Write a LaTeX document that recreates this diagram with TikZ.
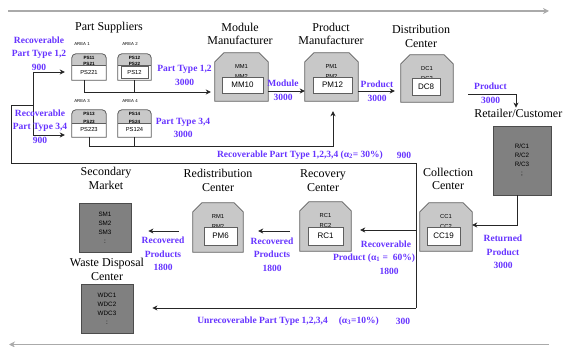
\documentclass[tikz,border=0pt]{standalone}
\usepackage{fontspec}
\setmainfont{Liberation Serif}
\setsansfont{Liberation Sans}
\usetikzlibrary{arrows.meta,calc}
\definecolor{lab}{RGB}{102,51,255}
\definecolor{boxfill}{RGB}{200,200,200}
\definecolor{boxline}{RGB}{95,95,95}
\definecolor{darkfill}{RGB}{128,128,128}
\definecolor{guide}{RGB}{170,170,170}
\tikzset{
 title/.style={font=\fontsize{12}{13.5}\selectfont, align=center, inner sep=0pt},
 lbl/.style={font=\bfseries\fontsize{9.5}{13.5}\selectfont, text=lab, align=center, inner sep=0pt},
 innerbox/.style={draw=boxline, fill=white, line width=0.7pt, font=\sffamily\fontsize{8}{9}\selectfont, inner sep=0pt},
 toptext/.style={font=\sffamily\fontsize{5.8}{6}\selectfont, inner sep=0pt},
 pstop/.style={font=\sffamily\bfseries\fontsize{4.6}{5}\selectfont, inner sep=0pt},
 pstext/.style={font=\sffamily\fontsize{5.8}{6}\selectfont, inner sep=0pt},
 areatext/.style={font=\sffamily\fontsize{4.3}{5}\selectfont, inner sep=0pt},
 holder/.style={inner sep=0pt, draw=none},
 darkbox/.style={draw=black!70, fill=darkfill, line width=0.8pt, inner sep=0pt, align=center, font=\sffamily\fontsize{6.3}{9}\selectfont},
 conn/.style={draw=black!85, line width=0.8pt},
 arr/.style={conn, -{Stealth[length=5pt,width=5pt,inset=1.5pt]}},
 guidearrow/.style={draw=guide, line width=1.3pt, -{Stealth[length=6pt,width=6pt,inset=2pt]}},
}
\newcommand{\chbox}[3]{%
 \draw[draw=boxline, fill=boxfill, line width=0.8pt] (#1.south west) -- ([yshift=-9pt]#1.north west) -- ([xshift=9pt]#1.north west) -- ([xshift=-9pt]#1.north east) -- ([yshift=-9pt]#1.north east) -- (#1.south east) -- cycle;
 \node[toptext] at ([yshift=-13.8pt]#1.north) {#2};
 \node[toptext] at ([yshift=-23.5pt]#1.north) {#3};
}
\newcommand{\psbox}[5]{%
 \path[fill=boxfill] (#1.south west) -- ([yshift=-4pt]#1.north west) arc[start angle=180, end angle=90, radius=4pt] -- ([xshift=-4pt]#1.north east) arc[start angle=90, end angle=0, radius=4pt] -- (#1.south east) -- cycle;
 \node[pstop] at ([yshift=-4pt]#1.north) {#3};
 \node[pstop] at ([yshift={1.2pt-#2}]#1.north) {#4};
 \fill[white] (#1.south west) rectangle ([yshift=-#2]#1.north east);
 \draw[boxline, line width=0.5pt] ([yshift=-#2]#1.north west) -- ([yshift=-#2]#1.north east);
 \draw[boxline, line width=0.8pt] (#1.south west) -- ([yshift=-4pt]#1.north west) arc[start angle=180, end angle=90, radius=4pt] -- ([xshift=-4pt]#1.north east) arc[start angle=90, end angle=0, radius=4pt] -- (#1.south east) -- cycle;
 \node[pstext] at ($(#1.south)!0.5!([yshift=-#2]#1.north)$) {#5};
}
\begin{document}
\begin{tikzpicture}[x=1pt,y=-1pt]
\useasboundingbox (0,0) rectangle (563,347);

% guide arrows
\coordinate (gA) at (8,11); \coordinate (gB) at (549,11);
\coordinate (gC) at (549,344.5); \coordinate (gD) at (9,344.5);
\draw[guidearrow] (gA) -- (gB);
\draw[guidearrow] (gC) -- (gD);

% titles
\node[title] (tPS) at (109,28) {Part Suppliers};
\node[title] (tMM) at (240,34) {Module\\Manufacturer};
\node[title] (tPM) at (331,34) {Product\\Manufacturer};
\node[title] (tDC) at (421,36.5) {Distribution\\Center};
\node[title, anchor=east] (tRT) at (562.5,113.5) {Retailer/Customer};
\node[title] (tCC) at (448,179) {Collection\\Center};
\node[title] (tRC) at (323,180.5) {Recovery\\Center};
\node[title] (tRD) at (218,180.5) {Redistribution\\Center};
\node[title] (tSM) at (106,178.5) {Secondary\\Market};
\node[title] (tWD) at (107,269.5) {Waste Disposal\\Center};

% area labels
\node[areatext] (a1) at (82,44) {AREA 1};
\node[areatext] (a2) at (130,44) {AREA 2};
\node[areatext] (a3) at (82,101) {AREA 3};
\node[areatext] (a4) at (130,101) {AREA 4};

% part supplier boxes
\node[holder, minimum width=34pt, minimum height=26pt] (ps221) at (89,67) {};
\psbox{ps221}{11pt}{PS11}{PS21}{PS221}
\node[holder, minimum width=33pt, minimum height=26pt] (ps12) at (134.5,67) {};
\psbox{ps12}{11pt}{PS12}{PS22}{PS12}
\draw[boxline, line width=0.6pt] ([xshift=3pt,yshift=2pt]ps12.south west) rectangle ([xshift=-3pt,yshift=-13pt]ps12.north east);
\node[holder, minimum width=34pt, minimum height=27pt] (ps223) at (89,123.5) {};
\psbox{ps223}{13pt}{PS13}{PS23}{PS223}
\node[holder, minimum width=33pt, minimum height=27pt] (ps124) at (134.5,123.5) {};
\psbox{ps124}{13pt}{PS14}{PS24}{PS124}

% chamfered boxes
\node[holder, minimum width=53pt, minimum height=48pt] (mm) at (241.5,77) {};
\chbox{mm}{MM1}{MM2}
\node[innerbox, minimum width=41pt, minimum height=16pt] (mm10) at (242.5,85) {MM10};

\node[holder, minimum width=53pt, minimum height=48pt] (pm) at (331.5,77) {};
\chbox{pm}{PM1}{PM2}
\node[innerbox, minimum width=39pt, minimum height=16pt] (pm12) at (332.5,85) {PM12};

\node[holder, minimum width=52pt, minimum height=47pt] (dc) at (427,78.5) {};
\chbox{dc}{DC1}{DC2}
\node[innerbox, minimum width=28pt, minimum height=17pt] (dc8) at (426,86.5) {DC8};

\node[holder, minimum width=52pt, minimum height=48pt] (cc) at (446,227) {};
\chbox{cc}{CC1}{CC2}
\node[innerbox, minimum width=33pt, minimum height=18pt] (cc19) at (443.5,236) {CC19};

\node[holder, minimum width=51pt, minimum height=49pt] (rc) at (325.5,226.5) {};
\chbox{rc}{RC1}{RC2}
\node[innerbox, minimum width=35pt, minimum height=18pt] (rc1) at (325.5,236) {RC1};

\node[holder, minimum width=50pt, minimum height=49pt] (pm6) at (218,227.5) {};
\chbox{pm6}{RM1}{RM2}
\node[innerbox, minimum width=33pt, minimum height=18pt] (pm6in) at (220.5,236) {PM6};

% dark boxes
\node[darkbox, minimum width=58pt, minimum height=69pt] (rt) at (522,160.5) {R/C1\\R/C2\\R/C3\\;};
\node[darkbox, minimum width=52pt, minimum height=49pt] (sm) at (105,227.5) {SM1\\SM2\\SM3\\:};
\node[darkbox, minimum width=52pt, minimum height=49pt] (wdc) at (107,308.5) {WDC1\\WDC2\\WDC3\\:};

% connectors
\coordinate (jTop) at (416,163);
\coordinate (jMid) at (416,230);
\coordinate (jBot) at (416,308);
\coordinate (jL1) at (11,163);
\coordinate (jL2) at (11,105);
\coordinate (jL3) at (33,105);
\coordinate (jA) at (33,72);
\coordinate (jB) at (33,135);
\draw[conn] (jTop) -- (jBot);
\draw[conn] (jTop) -- (jL1) -- (jL2) -- (jL3);
\draw[conn] (jA) -- (jB);
\draw[arr, shorten >=7pt] (jA) -- (jA -| ps221.west);
\draw[arr, shorten >=7pt] (jB) -- (jB -| ps223.west);
\draw[arr, shorten >=9pt] (jMid) -- (jMid -| rc.east);
\draw[arr, shorten >=19pt] (jBot) -- (jBot -| wdc.east);

\coordinate (j12) at (84,92);
\draw[arr, shorten >=4pt] ([xshift=-5pt]ps221.south) |- (j12 -| mm.west);
\draw[conn] (ps12.south) -- (ps12.south |- j12);
\coordinate (jPM) at (333,146);
\draw[arr, shorten >=10pt] (ps223.south) |- (jPM) -- (jPM |- pm.south);
\draw[conn] (ps124.south) -- (ps124.south |- jPM);

\coordinate (mmo) at ($(mm.east)+(0,14)$);
\draw[arr] (mmo) -- (mmo -| pm.west);
\coordinate (pmo) at ($(pm.east)+(0,14)$);
\draw[arr, shorten >=6pt] (pmo) -- (pmo -| dc.west);
\coordinate (dco) at (468,94);
\draw[arr, shorten >=18pt] (dco) -| ([xshift=-6pt]rt.north);
\draw[arr] ([xshift=-5pt]rt.south) |- ([yshift=2pt]cc.east);
\coordinate (rco) at ($(rc.west)+(-10,4.5)$);
\draw[arr, shorten >=15pt] (rco) -- (rco -| pm6.east);
\coordinate (p6o) at ($(pm6.west)+(-14,3.5)$);
\draw[arr, shorten >=17pt] (p6o) -- (p6o -| sm.east);

% labels
\node[lbl] (l1) at (39,53.5) {Recoverable\\Part Type 1,2\\900};
\node[lbl] (l2) at (40,126.5) {Recoverable\\Part Type 3,4\\900};
\node[lbl] (l3) at (184.5,75.5) {Part Type 1,2\\3000};
\node[lbl] (l4) at (183,128) {Part Type 3,4\\3000};
\node[lbl] (l5) at (283,90.5) {Module\\3000};
\node[lbl] (l6) at (377,91.5) {Product\\3000};
\node[lbl] (l7) at (490.5,93.5) {Product\\3000};
\node[lbl] (l8) at (300,155) {Recoverable Part Type 1,2,3,4 (α\textsubscript{2}= 30\%)};
\node[lbl] (l9) at (404,155) {900};
\node[lbl] (l10) at (503,252) {Returned\\Product\\3000};
\node[lbl] (l11) at (386,244) {Recoverable};
\node[lbl] (l12) at (374,258) {Product (α\textsubscript{1} =\ \ 60\%)};
\node[lbl] (l13) at (389,271) {1800};
\node[lbl] (l14) at (272,254.5) {Recovered\\Products\\1800};
\node[lbl] (l15) at (163,254) {Recovered\\Products\\1800};
\node[lbl] (l16) at (288,321) {Unrecoverable Part Type 1,2,3,4\hspace{11pt}(α\textsubscript{3}=10\%)};
\node[lbl] (l17) at (403,321) {300};
\end{tikzpicture}
\end{document}
